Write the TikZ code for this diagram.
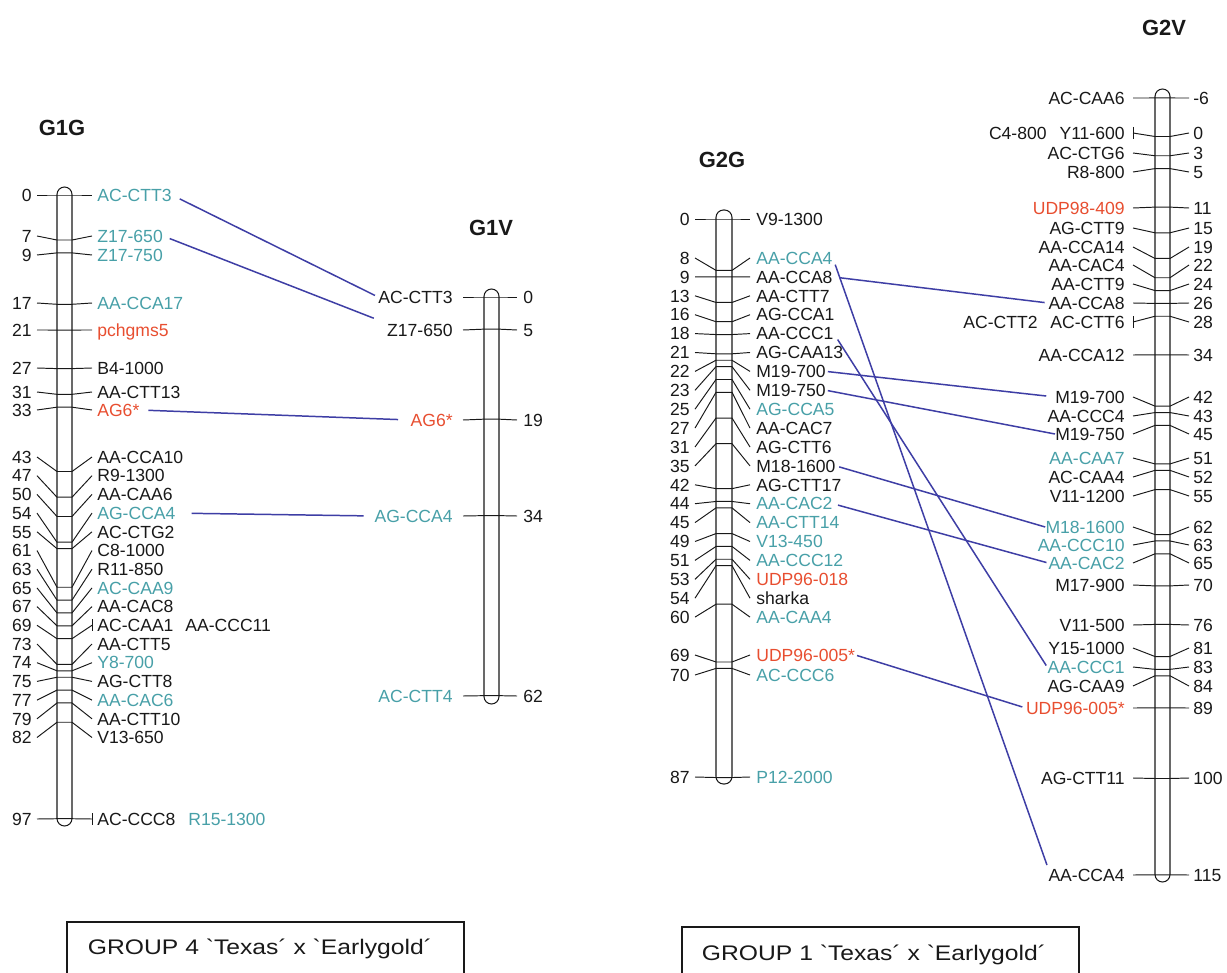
\documentclass[tikz,border=0pt]{standalone}
\usepackage{fontspec}
\setmainfont{Liberation Sans}
\newfontfamily\boxfont{Liberation Sans}[Ligatures=TeXOff, FakeStretch=1.17]
\usetikzlibrary{calc}
\definecolor{tealc}{RGB}{72,160,168}
\definecolor{redc}{RGB}{232,78,48}
\definecolor{linkc}{RGB}{62,62,165}
\definecolor{inkc}{RGB}{25,25,25}
\newcommand\lfont{\fontsize{10}{12}\selectfont}
\newcommand\tfont{\fontsize{12.5}{15}\selectfont\bfseries}
% marker with numbers on the left and labels on the right
\newcommand\MkL[5]{%
  \draw[tick] (\cTa,#2) -- (\cBl,{\cZero+\cScale*(#1)}) -- (\cBr,{\cZero+\cScale*(#1)}) -- (\cTb,#2);
  \node[num,anchor=east] (#3-n) at (\cNum,#2) {#1};
  \node[lab,#4,anchor=west] (#3) at (\cLab,#2) {#5};}
% marker with labels on the left and numbers on the right
\newcommand\MkR[5]{%
  \draw[tick] (\cTa,#2) -- (\cBl,{\cZero+\cScale*(#1)}) -- (\cBr,{\cZero+\cScale*(#1)}) -- (\cTb,#2);
  \node[num,anchor=west] (#3-n) at (\cNum,#2) {#1};
  \node[lab,#4,anchor=east] (#3) at (\cLab,#2) {#5};}
\tikzset{
  lab/.style={font=\lfont, text=inkc, inner sep=0pt, text height=7.16pt, text depth=0pt},
  num/.style={lab},
  tl/.style={text=tealc},
  rd/.style={text=redc},
  bk/.style={},
  tick/.style={draw=inkc, line width=0.55pt},
  bar/.style={draw=inkc, line width=0.6pt, rounded corners=0.15cm},
  title/.style={font=\tfont, text=inkc, inner sep=0pt},
  conn/.style={draw=linkc, line width=0.85pt},
  gbox/.style={draw=inkc, line width=0.7pt},
  gtext/.style={font=\boxfont\fontsize{12}{14}\selectfont, text=inkc, inner sep=0pt, text height=8.6pt, text depth=0pt},
}
\begin{document}
\begin{tikzpicture}[x=0.02cm, y=-0.02cm]
\useasboundingbox (0,0) rectangle (1227,973);
\fill[white] (0,0) rectangle (1227,973);

% ---------------- G1G ----------------
\node[title] (t1g) at (62,128) {G1G};
\def\cNum{32}\def\cTa{37}\def\cBl{57}\def\cBr{72}\def\cTb{92}\def\cLab{97}
\def\cZero{195}\def\cScale{6.43}
\draw[bar] (\cBl,187) rectangle (\cBr,826);
\MkL{0}{195}{g1g-acctt3}{tl}{AC-CTT3}
\MkL{7}{236}{g1g-z17650}{tl}{Z17-650}
\MkL{9}{255}{g1g-z17750}{tl}{Z17-750}
\MkL{17}{303}{g1g-aacca17}{tl}{AA-CCA17}
\MkL{21}{330}{g1g-pchgms5}{rd}{pchgms5}
\MkL{27}{368}{g1g-b41000}{bk}{B4-1000}
\MkL{31}{392}{g1g-aactt13}{bk}{AA-CTT13}
\MkL{33}{410}{g1g-ag6}{rd}{AG6*}
\MkL{43}{457}{g1g-aacca10}{bk}{AA-CCA10}
\MkL{47}{475.7}{g1g-r91300}{bk}{R9-1300}
\MkL{50}{494.4}{g1g-aacaa6}{bk}{AA-CAA6}
\MkL{54}{513.1}{g1g-agcca4}{tl}{AG-CCA4}
\MkL{55}{531.8}{g1g-acctg2}{bk}{AC-CTG2}
\MkL{61}{550.5}{g1g-c81000}{bk}{C8-1000}
\MkL{63}{569.2}{g1g-r11850}{bk}{R11-850}
\MkL{65}{587.9}{g1g-accaa9}{tl}{AC-CAA9}
\MkL{67}{606.6}{g1g-aacac8}{bk}{AA-CAC8}
\MkL{69}{625.3}{g1g-accaa1}{bk}{AC-CAA1}
\node[lab,anchor=west] (g1g-aaccc11) at (185,625.3) {AA-CCC11};
\draw[tick] (\cTb,619.3) -- (\cTb,631.3);
\MkL{73}{644}{g1g-aactt5}{bk}{AA-CTT5}
\MkL{74}{662.7}{g1g-y8700}{tl}{Y8-700}
\MkL{75}{681.4}{g1g-agctt8}{bk}{AG-CTT8}
\MkL{77}{700.1}{g1g-aacac6}{tl}{AA-CAC6}
\MkL{79}{718.8}{g1g-aactt10}{bk}{AA-CTT10}
\MkL{82}{737.5}{g1g-v13650}{bk}{V13-650}
\MkL{97}{819}{g1g-accc8}{bk}{AC-CCC8}
\node[lab,tl,anchor=west] (g1g-r151300) at (188,819) {R15-1300};
\draw[tick] (\cTb,813) -- (\cTb,825);

% ---------------- G1V ----------------
\node[title] (t1v) at (491,228) {G1V};
\def\cNum{523}\def\cTa{463}\def\cBl{484}\def\cBr{499}\def\cTb{517}\def\cLab{453}
\def\cZero{297}\def\cScale{6.43}
\draw[bar] (\cBl,289) rectangle (\cBr,704);
\MkR{0}{297}{g1v-acctt3}{bk}{AC-CTT3}
\MkR{5}{330}{g1v-z17650}{bk}{Z17-650}
\MkR{19}{420}{g1v-ag6}{rd}{AG6*}
\MkR{34}{516}{g1v-agcca4}{tl}{AG-CCA4}
\MkR{62}{696}{g1v-acctt4}{tl}{AC-CTT4}

% ---------------- G2G ----------------
\node[title] (t2g) at (722,160) {G2G};
\def\cNum{690}\def\cTa{695}\def\cBl{716}\def\cBr{732}\def\cTb{750}\def\cLab{756}
\def\cZero{219}\def\cScale{6.42}
\draw[bar] (\cBl,210) rectangle (\cBr,784);
\MkL{0}{219}{g2g-v91300}{bk}{V9-1300}
\MkL{8}{258}{g2g-aacca4}{tl}{AA-CCA4}
\MkL{9}{276.9}{g2g-aacca8}{bk}{AA-CCA8}
\MkL{13}{295.8}{g2g-aactt7}{bk}{AA-CTT7}
\MkL{16}{314.7}{g2g-agcca1}{bk}{AG-CCA1}
\MkL{18}{333.6}{g2g-aaccc1}{bk}{AA-CCC1}
\MkL{21}{352.5}{g2g-agcaa13}{bk}{AG-CAA13}
\MkL{22}{371.4}{g2g-m19700}{bk}{M19-700}
\MkL{23}{390.3}{g2g-m19750}{bk}{M19-750}
\MkL{25}{409.2}{g2g-agcca5}{tl}{AG-CCA5}
\MkL{27}{428.1}{g2g-aacac7}{bk}{AA-CAC7}
\MkL{31}{447}{g2g-agctt6}{bk}{AG-CTT6}
\MkL{35}{465.9}{g2g-m181600}{bk}{M18-1600}
\MkL{42}{484.8}{g2g-agctt17}{bk}{AG-CTT17}
\MkL{44}{503.7}{g2g-aacac2}{tl}{AA-CAC2}
\MkL{45}{522.6}{g2g-aactt14}{tl}{AA-CTT14}
\MkL{49}{541.5}{g2g-v13450}{tl}{V13-450}
\MkL{51}{560.4}{g2g-aaccc12}{tl}{AA-CCC12}
\MkL{53}{579.3}{g2g-udp96018}{rd}{UDP96-018}
\MkL{54}{598.2}{g2g-sharka}{bk}{sharka}
\MkL{60}{617.1}{g2g-aacaa4}{tl}{AA-CAA4}
\MkL{69}{655}{g2g-udp96005}{rd}{UDP96-005*}
\MkL{70}{675}{g2g-acccc6}{tl}{AC-CCC6}
\MkL{87}{777}{g2g-p122000}{tl}{P12-2000}

% ---------------- G2V ----------------
\node[title] (t2v) at (1164,28) {G2V};
\def\cNum{1193}\def\cTa{1133}\def\cBl{1155}\def\cBr{1170}\def\cTb{1189}\def\cLab{1125}
\def\cZero{136.5}\def\cScale{6.42}
\draw[bar] (\cBl,89) rectangle (\cBr,882);
\MkR{-6}{98}{g2v-accaa6}{bk}{AC-CAA6}
\MkR{0}{133}{g2v-y11600}{bk}{Y11-600}
\node[lab,anchor=east] (g2v-c4800) at (1047,133) {C4-800};
\draw[tick] (\cTa,127) -- (\cTa,139);
\MkR{3}{153}{g2v-acctg6}{bk}{AC-CTG6}
\MkR{5}{172}{g2v-r8800}{bk}{R8-800}
\MkR{11}{208}{g2v-udp98409}{rd}{UDP98-409}
\MkR{15}{228}{g2v-agctt9}{bk}{AG-CTT9}
\MkR{19}{247}{g2v-aacca14}{bk}{AA-CCA14}
\MkR{22}{265}{g2v-aacac4}{bk}{AA-CAC4}
\MkR{24}{284}{g2v-aactt9}{bk}{AA-CTT9}
\MkR{26}{303}{g2v-aacca8}{bk}{AA-CCA8}
\MkR{28}{322}{g2v-acctt6}{bk}{AC-CTT6}
\node[lab,anchor=east] (g2v-acctt2) at (1038,322) {AC-CTT2};
\draw[tick] (\cTa,316) -- (\cTa,328);
\MkR{34}{355}{g2v-aacca12}{bk}{AA-CCA12}
\MkR{42}{397}{g2v-m19700}{bk}{M19-700}
\MkR{43}{416}{g2v-aaccc4}{bk}{AA-CCC4}
\MkR{45}{434}{g2v-m19750}{bk}{M19-750}
\MkR{51}{458}{g2v-aacaa7}{tl}{AA-CAA7}
\MkR{52}{477}{g2v-accaa4}{bk}{AC-CAA4}
\MkR{55}{496}{g2v-v111200}{bk}{V11-1200}
\MkR{62}{527}{g2v-m181600}{tl}{M18-1600}
\MkR{63}{545}{g2v-aaccc10}{tl}{AA-CCC10}
\MkR{65}{563}{g2v-aacac2}{tl}{AA-CAC2}
\MkR{70}{585}{g2v-m17900}{bk}{M17-900}
\MkR{76}{625}{g2v-v11500}{bk}{V11-500}
\MkR{81}{648}{g2v-y151000}{bk}{Y15-1000}
\MkR{83}{667}{g2v-aaccc1}{tl}{AA-CCC1}
\MkR{84}{686}{g2v-agcaa9}{bk}{AG-CAA9}
\MkR{89}{708}{g2v-udp96005}{rd}{UDP96-005*}
\MkR{100}{778}{g2v-agctt11}{bk}{AG-CTT11}
\MkR{115}{875}{g2v-aacca4}{bk}{AA-CCA4}

% ---------------- connectors ----------------
\draw[conn, shorten <=5pt, shorten >=2pt] (g1g-acctt3.east) -- (g1v-acctt3.west);
\draw[conn, shorten <=4pt, shorten >=8pt] (g1g-z17650.east) -- (g1v-z17650.north west);
\draw[conn, shorten <=5pt, shorten >=7pt] (g1g-ag6.east) -- (g1v-ag6.west);
\draw[conn, shorten <=9pt, shorten >=6pt] (g1g-agcca4.east) -- (g1v-agcca4.west);
\draw[conn, shorten <=4pt, shorten >=2pt] (g2g-aacca4.east) -- (g2v-aacca4.north west);
\draw[conn, shorten <=4pt, shorten >=2pt] (g2g-aacca8.east) -- (g2v-aacca8.west);
\draw[conn, shorten <=4pt, shorten >=1pt] (g2g-aaccc1.east) -- (g2v-aaccc1.west);
\draw[conn, shorten <=1pt, shorten >=5pt] (g2g-m19700.east) -- (g2v-m19700.west);
\draw[conn, shorten <=1pt, shorten >=0pt] (g2g-m19750.east) -- (g2v-m19750.west);
\draw[conn, shorten <=2pt, shorten >=0pt] (g2g-m181600.east) -- (g2v-m181600.west);
\draw[conn, shorten <=3pt, shorten >=1pt] (g2g-aacac2.east) -- (g2v-aacac2.west);
\draw[conn, shorten <=1pt, shorten >=2pt] (g2g-udp96005.east) -- (g2v-udp96005.west);

% ---------------- group boxes ----------------
\draw[gbox] (67,975) -- (67,922) -- (464,922) -- (464,975);
\node[gtext] (box1) at (260,947) {GROUP 4 `Texas´ x `Earlygold´};
\draw[gbox] (682,975) -- (682,927) -- (1079,927) -- (1079,975);
\node[gtext] (box2) at (874,953) {GROUP 1 `Texas´ x `Earlygold´};
\end{tikzpicture}
\end{document}
